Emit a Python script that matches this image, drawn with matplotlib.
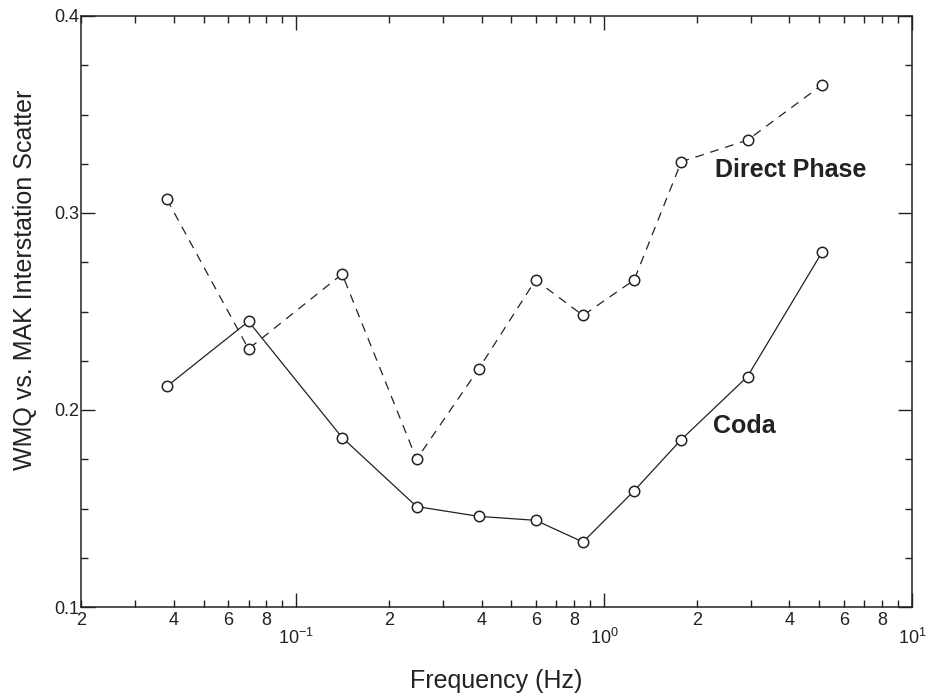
import numpy as np
import matplotlib
matplotlib.use('Agg')
import matplotlib.pyplot as plt
from matplotlib.ticker import LogLocator, FuncFormatter, MultipleLocator, FixedLocator

# data
freq = [0.038, 0.070, 0.141, 0.246, 0.392, 0.599, 0.854, 1.252, 1.781, 2.923, 5.10]
direct_phase = [0.307, 0.231, 0.269, 0.175, 0.221, 0.266, 0.248, 0.266, 0.326, 0.337, 0.365]
coda = [0.212, 0.245, 0.186, 0.151, 0.146, 0.144, 0.133, 0.159, 0.185, 0.217, 0.280]

plt.rcParams['font.family'] = ['Liberation Sans', 'DejaVu Sans']

ink = '#222222'

fig = plt.figure(figsize=(9.3, 6.93), dpi=100)
ax = fig.add_axes([81/930, 1-607/693, (912-81)/930, (607-16)/693])

ax.plot(freq, direct_phase, linestyle=(0, (7, 5.5)), color=ink, lw=0.9,
        marker='o', ms=7.5, mfc='white', mec=ink, mew=1.1)
ax.plot(freq, coda, linestyle='-', color=ink, lw=0.9,
        marker='o', ms=7.5, mfc='white', mec=ink, mew=1.1)

ax.set_xscale('log')
ax.set_xlim(0.02, 10)
ax.set_ylim(0.1, 0.4)

ax.xaxis.set_major_locator(FixedLocator([0.1, 1, 10]))
ax.xaxis.set_major_formatter(FuncFormatter(lambda v, p: r'$\mathdefault{10^{%d}}$' % round(np.log10(v))))
ax.xaxis.set_minor_locator(LogLocator(base=10, subs=np.arange(2, 10)))


def minor_fmt(v, p):
    m = int(round(v / 10 ** np.floor(np.log10(v) + 1e-9)))
    return str(m) if m in (2, 4, 6, 8) else ''


ax.xaxis.set_minor_formatter(FuncFormatter(minor_fmt))

ax.yaxis.set_major_locator(MultipleLocator(0.1))
ax.yaxis.set_minor_locator(MultipleLocator(0.025))
ax.yaxis.set_major_formatter(FuncFormatter(lambda v, p: '%.1f' % v))

ax.tick_params(which='both', direction='in', top=True, right=True, color=ink, labelcolor=ink)
ax.tick_params(which='major', length=10, width=1.0)
ax.tick_params(which='minor', length=5, width=1.0)
ax.tick_params(axis='x', which='minor', pad=3.5, labelsize=13)
ax.tick_params(axis='x', which='major', pad=15, labelsize=13)
ax.tick_params(axis='y', which='major', pad=1.5, labelsize=13)
for lab in ax.get_xticklabels(which='both') + ax.get_yticklabels():
    lab.set_fontstretch('condensed')

for s in ax.spines.values():
    s.set_linewidth(1.1)
    s.set_color(ink)

ax.set_xlabel('Frequency (Hz)', fontsize=18, color=ink, labelpad=15)
ax.set_ylabel('WMQ vs. MAK Interstation Scatter', fontsize=18, color=ink)
ax.yaxis.set_label_coords(-0.0674, 0.553)
ax.yaxis.label.set_va('center')

ax.text(4.04, 0.3218, 'Direct Phase', fontsize=18, fontweight='bold', color=ink,
        ha='center', va='center')
ax.text(2.85, 0.1919, 'Coda', fontsize=18, fontweight='bold', color=ink,
        ha='center', va='center')

fig.savefig('out.png', dpi=100)
